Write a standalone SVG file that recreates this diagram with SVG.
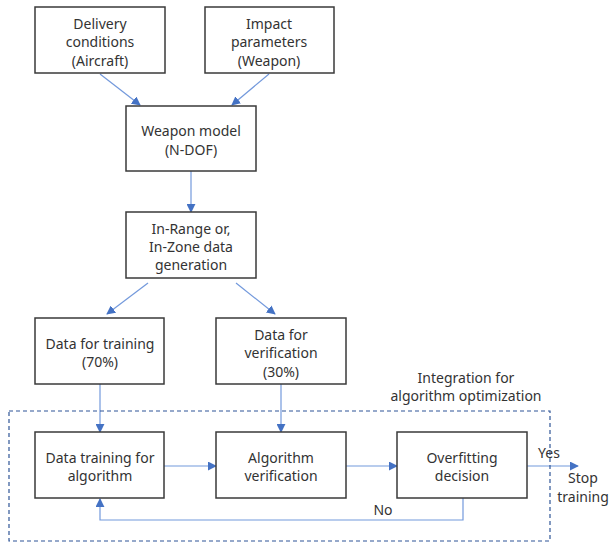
<svg xmlns="http://www.w3.org/2000/svg" width="612" height="544" viewBox="0 0 612 544">
<style>
.box{fill:#fff;stroke:#3a3a3a;stroke-width:1.5}
.t{font-family:"Noto Sans","Open Sans",sans-serif;font-size:14px;fill:#333;text-anchor:middle}
.c{fill:none;stroke:#7399dc;stroke-width:1.2}
</style>
<defs>
<marker id="ah" viewBox="0 0 10 10" refX="9" refY="5" markerWidth="9" markerHeight="9" markerUnits="userSpaceOnUse" orient="auto">
<path d="M0,0 L10,5 L0,10 z" fill="#4472c4"/>
</marker>
</defs>
<rect width="612" height="544" fill="#fff"/>
<g id="connectors">
<line class="c" x1="100" y1="74" x2="140" y2="105" marker-end="url(#ah)"/>
<line class="c" x1="269" y1="74" x2="232" y2="105" marker-end="url(#ah)"/>
<line class="c" x1="191" y1="171" x2="191" y2="212" marker-end="url(#ah)"/>
<line class="c" x1="148" y1="283" x2="107" y2="314" marker-end="url(#ah)"/>
<line class="c" x1="236" y1="283" x2="275" y2="314" marker-end="url(#ah)"/>
<line class="c" x1="100" y1="384" x2="100" y2="432" marker-end="url(#ah)"/>
<line class="c" x1="281" y1="384" x2="281" y2="432" marker-end="url(#ah)"/>
<line class="c" x1="164" y1="466" x2="216" y2="466" marker-end="url(#ah)"/>
<line class="c" x1="346" y1="466" x2="397" y2="466" marker-end="url(#ah)"/>
<line class="c" x1="527" y1="466" x2="578" y2="466" marker-end="url(#ah)"/>
<polyline class="c" points="463,498 463,520 100,520 100,499" marker-end="url(#ah)"/>
<text class="t" x="383" y="515">No</text>
<text class="t" x="549" y="458">Yes</text>
<text class="t" x="583" y="483">Stop</text>
<text class="t" x="583" y="502">training</text>
</g>
<g id="integration">
<rect x="9" y="411" width="541" height="130" fill="none" stroke="#2f5597" stroke-width="1.2" stroke-dasharray="4,3"/>
<text class="t" x="466" y="383">Integration for</text>
<text class="t" x="466" y="401">algorithm optimization</text>
</g>
<g id="delivery">
<rect class="box" x="35" y="7" width="130" height="66"/>
<text class="t" x="100" y="29">Delivery</text>
<text class="t" x="100" y="47">conditions</text>
<text class="t" x="100" y="66">(Aircraft)</text>
</g>
<g id="impact">
<rect class="box" x="205" y="7" width="129" height="66"/>
<text class="t" x="269" y="29">Impact</text>
<text class="t" x="269" y="47">parameters</text>
<text class="t" x="269" y="66">(Weapon)</text>
</g>
<g id="weapon">
<rect class="box" x="126" y="106" width="130" height="65"/>
<text class="t" x="191" y="136">Weapon model</text>
<text class="t" x="191" y="155">(N-DOF)</text>
</g>
<g id="inrange">
<rect class="box" x="126" y="212" width="130" height="66"/>
<text class="t" x="191" y="234">In-Range or,</text>
<text class="t" x="191" y="252">In-Zone data</text>
<text class="t" x="191" y="270">generation</text>
</g>
<g id="training-data">
<rect class="box" x="35" y="318" width="129" height="66"/>
<text class="t" x="100" y="349">Data for training</text>
<text class="t" x="100" y="367">(70%)</text>
</g>
<g id="verification-data">
<rect class="box" x="216" y="318" width="130" height="66"/>
<text class="t" x="281" y="340">Data for</text>
<text class="t" x="281" y="358">verification</text>
<text class="t" x="281" y="377">(30%)</text>
</g>
<g id="data-training">
<rect class="box" x="35" y="432" width="129" height="66"/>
<text class="t" x="100" y="463">Data training for</text>
<text class="t" x="100" y="481">algorithm</text>
</g>
<g id="algo-verification">
<rect class="box" x="216" y="432" width="130" height="66"/>
<text class="t" x="281" y="463">Algorithm</text>
<text class="t" x="281" y="481">verification</text>
</g>
<g id="overfitting">
<rect class="box" x="397" y="432" width="130" height="66"/>
<text class="t" x="462" y="463">Overfitting</text>
<text class="t" x="462" y="481">decision</text>
</g>
</svg>
